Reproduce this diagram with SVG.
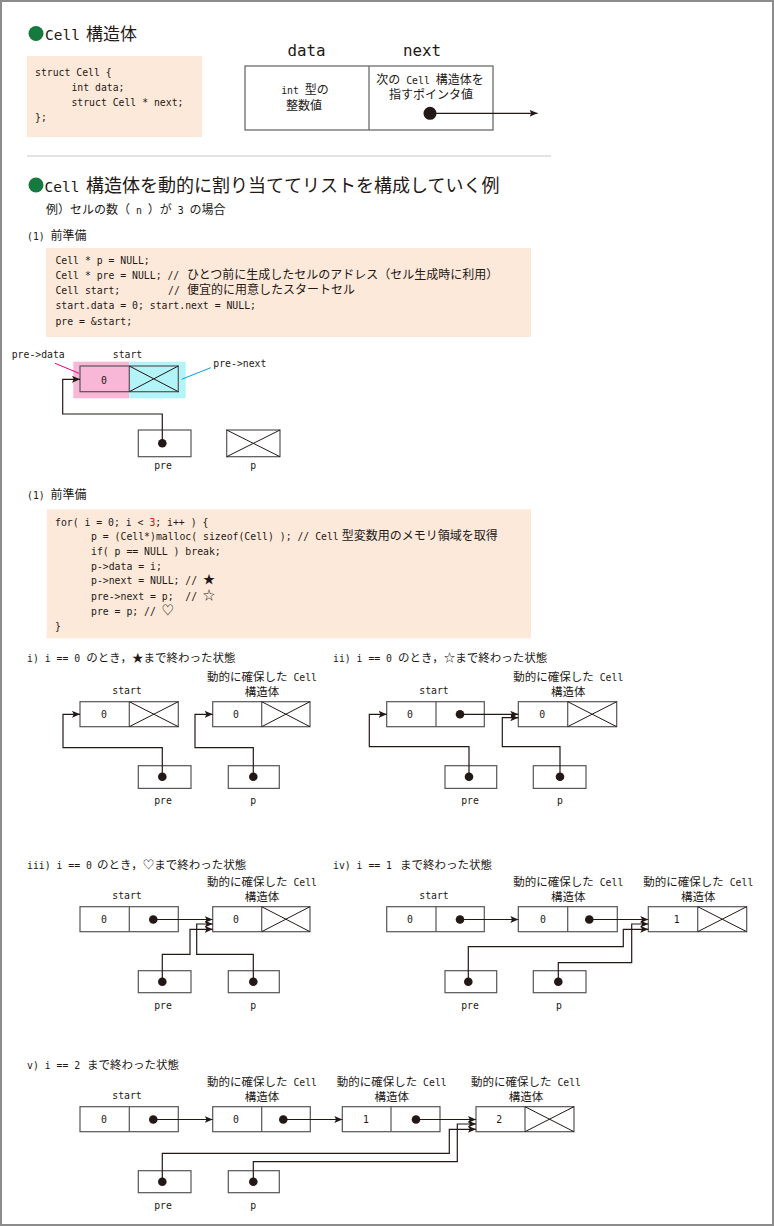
<svg xmlns="http://www.w3.org/2000/svg" width="774" height="1226" viewBox="0 0 774 1226">
<style>
.m{font-family:"DejaVu Sans Mono","Liberation Mono","Noto Sans CJK JP",monospace;font-size:9.8px;fill:#231815}
.j{font-family:"Noto Sans CJK JP","Noto Sans CJK SC",sans-serif;font-size:12px;fill:#231815}
.d{font-size:11.5px}
.c{text-anchor:middle}
.box{fill:#fff;stroke:#555;stroke-width:1.2}
.nb{fill:none;stroke:#555;stroke-width:1.2}
.dv{stroke:#555;stroke-width:1.2}
.x{stroke:#231815;stroke-width:1}
.dot{fill:#231815}
.ln{fill:none;stroke:#231815;stroke-width:1.2;marker-end:url(#ah)}
.code{fill:#fde9da}
.gd{fill:#157a3e}
</style>
<defs>
<marker id="ah" markerUnits="userSpaceOnUse" markerWidth="10" markerHeight="8" refX="8" refY="3.5" orient="auto"><path d="M0,0 L8,3.5 L0,7 L1.8,3.5 Z" fill="#231815"/></marker>
</defs>
<rect x="1" y="1" width="772" height="1224" fill="#fff" stroke="#8c8c8c" stroke-width="2"/>

<!-- Section 1 -->
<g id="title1">
<circle class="gd" cx="36" cy="33.5" r="7.5"/>
<text x="45" y="40" class="m" style="font-size:14.5px">Cell<tspan class="j" x="86" style="font-size:17px">構造体</tspan></text>
</g>
<g id="code1">
<rect class="code" x="27" y="56" width="175" height="81"/>
<text class="m" x="35" y="76">struct Cell {</text>
<text class="m" x="71.4" y="91">int data;</text>
<text class="m" x="71.4" y="106">struct Cell * next;</text>
<text class="m" x="35" y="121">};</text>
</g>
<g id="cell-struct">
<text class="m c" x="306.6" y="56" style="font-size:15.8px">data</text>
<text class="m c" x="422" y="56" style="font-size:15.8px">next</text>
<rect x="245" y="66" width="248" height="64" fill="#fff" stroke="#6b6b6b" stroke-width="1.3"/>
<line x1="369" y1="66" x2="369" y2="130" stroke="#6b6b6b" stroke-width="1.3"/>
<text class="m c" x="305" y="94">int <tspan class="j">型の</tspan></text>
<text class="j c" x="304" y="110">整数値</text>
<text class="j c" x="430" y="84">次の<tspan class="m"> Cell </tspan>構造体を</text>
<text class="j c" x="431" y="99">指すポインタ値</text>
<circle class="dot" cx="430" cy="113.3" r="6.5"/>
</g>
<g id="conn-top"><path class="ln" d="M430,113.3 H537.5"/></g>
<line x1="27" y1="156" x2="551" y2="156" stroke="#c8c8c8" stroke-width="1"/>

<!-- Section 2 -->
<g id="title2">
<circle class="gd" cx="36" cy="185" r="7.5"/>
<text x="44.6" y="192" class="m" style="font-size:14.5px">Cell<tspan class="j" x="86" style="font-size:18px">構造体を動的に割り当ててリストを構成していく例</tspan></text>
<text class="j" x="46" y="214" xml:space="preserve">例）セルの数（<tspan class="m"> n </tspan>）が<tspan class="m"> 3 </tspan>の場合</text>
<text class="m" x="27" y="240">(1) <tspan class="j">前準備</tspan></text>
</g>
<g id="code2">
<rect class="code" x="46" y="248" width="485" height="89"/>
<text class="m" x="55.4" y="263.5">Cell * p = NULL;</text>
<text class="m" x="55.4" y="279">Cell * pre = NULL; // <tspan class="j" x="187">ひとつ前に生成したセルのアドレス（セル生成時に利用）</tspan></text>
<text class="m" x="55.4" y="294">Cell start;<tspan x="168">//</tspan><tspan class="j" x="187">便宜的に用意したスタートセル</tspan></text>
<text class="m" x="55.4" y="309">start.data = 0; start.next = NULL;</text>
<text class="m" x="55.4" y="325">pre = &amp;start;</text>
</g>

<!-- start diagram -->
<g id="init-start">
<rect x="73.3" y="361.7" width="56" height="36.6" fill="#f9b7d7"/>
<rect x="129.3" y="361.7" width="56.4" height="36.6" fill="#b3f4f8"/>
<rect class="nb" x="80" y="366" width="98.3" height="25.7"/>
<line class="dv" x1="129.3" y1="366" x2="129.3" y2="391.7"/>
<line class="x" x1="129.3" y1="366" x2="178.3" y2="391.7"/>
<line class="x" x1="129.3" y1="391.7" x2="178.3" y2="366"/>
<text class="m c" x="104" y="384">0</text>
<text class="m c" x="127.5" y="358">start</text>
<text class="m" x="11.7" y="358">pre-&gt;data</text>
<line x1="55" y1="363.3" x2="79" y2="373.3" stroke="#e4007f" stroke-width="1"/>
<text class="m" x="213.3" y="366.7">pre-&gt;next</text>
<line x1="181.7" y1="379.3" x2="210.7" y2="367.7" stroke="#00a0e9" stroke-width="1"/>
</g>
<g id="init-pre">
<rect class="box" x="138.3" y="430" width="52.7" height="26.7"/>
<circle class="dot" cx="162.3" cy="443.3" r="4.3"/>
<text class="m c" x="163" y="469">pre</text>
</g>
<g id="init-p">
<rect class="box" x="226.7" y="430" width="53.3" height="26.7"/>
<line class="x" x1="226.7" y1="430" x2="280" y2="456.7"/>
<line class="x" x1="226.7" y1="456.7" x2="280" y2="430"/>
<text class="m c" x="253.3" y="469">p</text>
</g>
<g id="init-conn"><path class="ln" d="M162.3,443.3 V414 H62.7 V379.3 H80"/></g>

<!-- loop code -->
<g id="code3">
<text class="m" x="27" y="499">(1) <tspan class="j">前準備</tspan></text>
<rect class="code" x="46.7" y="509.3" width="484.3" height="129"/>
<text class="m" x="55" y="526" xml:space="preserve">for( i = 0; i &lt; <tspan fill="#e60012">3</tspan>; i++ ) {</text>
<text class="m" x="91" y="540">p = (Cell*)malloc( sizeof(Cell) ); // Cell <tspan class="j" x="341.7">型変数用のメモリ領域を取得</tspan></text>
<text class="m" x="91" y="555">if( p == NULL ) break;</text>
<text class="m" x="91" y="569.5">p-&gt;data = i;</text>
<text class="m" x="91" y="584" xml:space="preserve">p-&gt;next = NULL; // <tspan class="j">★</tspan></text>
<text class="m" x="91" y="599.5" xml:space="preserve">pre-&gt;next = p;  // <tspan class="j">☆</tspan></text>
<text class="m" x="91" y="614.5" xml:space="preserve">pre = p; // <tspan class="j">♡</tspan></text>
<text class="m" x="55" y="629.5">}</text>
</g>

<!-- i) -->
<g id="s1-title"><text class="m" x="27" y="662" xml:space="preserve">i) i == 0 <tspan class="j" x="86.3" style="font-size:11.5px">のとき，★まで終わった状態</tspan></text></g>
<g id="s1-start">
<text class="m c" x="127" y="693.5">start</text>
<rect class="box" x="80" y="701.7" width="98.3" height="25"/>
<line class="dv" x1="129.3" y1="701.7" x2="129.3" y2="726.7"/>
<line class="x" x1="129.3" y1="701.7" x2="178.3" y2="726.7"/>
<line class="x" x1="129.3" y1="726.7" x2="178.3" y2="701.7"/>
<text class="m c" x="104" y="718">0</text>
</g>
<g id="s1-dyn">
<text class="j d c" x="262" y="681">動的に確保した<tspan class="m"> Cell</tspan></text>
<text class="j d c" x="262" y="696">構造体</text>
<rect class="box" x="212.7" y="701.7" width="97.3" height="25"/>
<line class="dv" x1="261.7" y1="701.7" x2="261.7" y2="726.7"/>
<line class="x" x1="261.7" y1="701.7" x2="310" y2="726.7"/>
<line class="x" x1="261.7" y1="726.7" x2="310" y2="701.7"/>
<text class="m c" x="236" y="718">0</text>
</g>
<g id="s1-pre">
<rect class="box" x="138.3" y="765.7" width="52.7" height="22.7"/>
<circle class="dot" cx="162.3" cy="776.7" r="4.3"/>
<text class="m c" x="163" y="803.5">pre</text>
</g>
<g id="s1-p">
<rect class="box" x="228.3" y="765.7" width="51" height="22.7"/>
<circle class="dot" cx="253.3" cy="776.7" r="4.3"/>
<text class="m c" x="253.3" y="803.5">p</text>
</g>
<g id="s1-conn">
<path class="ln" d="M162.3,776.7 V747.7 H63 V714.3 H80"/>
<path class="ln" d="M253.3,776.7 V747.7 H195 V714.3 H212.7"/>
</g>

<!-- ii) -->
<g id="s2-title"><text class="m" x="333" y="662" xml:space="preserve">ii) i == 0 <tspan class="j" x="398" style="font-size:11.5px">のとき，☆まで終わった状態</tspan></text></g>
<g id="s2-start">
<text class="m c" x="434" y="693.5">start</text>
<rect class="box" x="386.7" y="701.7" width="97.6" height="25"/>
<line class="dv" x1="436" y1="701.7" x2="436" y2="726.7"/>
<text class="m c" x="410" y="718">0</text>
<circle class="dot" cx="460" cy="714.3" r="4.3"/>
</g>
<g id="s2-dyn">
<text class="j d c" x="568.3" y="681">動的に確保した<tspan class="m"> Cell</tspan></text>
<text class="j d c" x="568.3" y="696">構造体</text>
<rect class="box" x="518.3" y="701.7" width="98.4" height="25"/>
<line class="dv" x1="567.7" y1="701.7" x2="567.7" y2="726.7"/>
<line class="x" x1="567.7" y1="701.7" x2="616.7" y2="726.7"/>
<line class="x" x1="567.7" y1="726.7" x2="616.7" y2="701.7"/>
<text class="m c" x="542.3" y="718">0</text>
</g>
<g id="s2-pre">
<rect class="box" x="445" y="765.7" width="51.7" height="22.7"/>
<circle class="dot" cx="469" cy="776.7" r="4.3"/>
<text class="m c" x="470" y="803.5">pre</text>
</g>
<g id="s2-p">
<rect class="box" x="533.3" y="765.7" width="52.7" height="22.7"/>
<circle class="dot" cx="560" cy="776.7" r="4.3"/>
<text class="m c" x="560" y="803.5">p</text>
</g>
<g id="s2-conn">
<path class="ln" d="M460,714.3 H518.3"/>
<path class="ln" d="M469,776.7 V746.7 H369.3 V714.3 H386.7"/>
<path class="ln" d="M560,776.7 V746.7 H502.3 V717.7 H518.3"/>
</g>

<!-- iii) -->
<g id="s3-title"><text class="m" x="27" y="869" xml:space="preserve">iii) i == 0 <tspan class="j" x="97" style="font-size:11.5px">のとき，♡まで終わった状態</tspan></text></g>
<g id="s3-start">
<text class="m c" x="127" y="898.5">start</text>
<rect class="box" x="80" y="906.7" width="98.3" height="25"/>
<line class="dv" x1="129.3" y1="906.7" x2="129.3" y2="931.7"/>
<text class="m c" x="104" y="923">0</text>
<circle class="dot" cx="153.3" cy="919.5" r="4.3"/>
</g>
<g id="s3-dyn">
<text class="j d c" x="262" y="886">動的に確保した<tspan class="m"> Cell</tspan></text>
<text class="j d c" x="262" y="901">構造体</text>
<rect class="box" x="212.7" y="906.7" width="97.3" height="25"/>
<line class="dv" x1="261.7" y1="906.7" x2="261.7" y2="931.7"/>
<line class="x" x1="261.7" y1="906.7" x2="310" y2="931.7"/>
<line class="x" x1="261.7" y1="931.7" x2="310" y2="906.7"/>
<text class="m c" x="236" y="923">0</text>
</g>
<g id="s3-pre">
<rect class="box" x="138.3" y="970.7" width="52.7" height="22"/>
<circle class="dot" cx="162.3" cy="981.7" r="4.3"/>
<text class="m c" x="163" y="1008.5">pre</text>
</g>
<g id="s3-p">
<rect class="box" x="228.3" y="970.7" width="51" height="22"/>
<circle class="dot" cx="253.3" cy="981.7" r="4.3"/>
<text class="m c" x="253.3" y="1008.5">p</text>
</g>
<g id="s3-conn">
<path class="ln" d="M153.3,919.5 H212.7"/>
<path class="ln" d="M162.3,981.7 V954.3 H190 V929.3 H212.7"/>
<path class="ln" d="M253.3,981.7 V954.3 H196.7 V924 H212.7"/>
</g>

<!-- iv) -->
<g id="s4-title"><text class="m" x="333" y="869" xml:space="preserve">iv) i == 1 <tspan class="j" x="400" style="font-size:11.5px">まで終わった状態</tspan></text></g>
<g id="s4-start">
<text class="m c" x="434" y="898.5">start</text>
<rect class="box" x="386.7" y="906.7" width="97.6" height="25"/>
<line class="dv" x1="436" y1="906.7" x2="436" y2="931.7"/>
<text class="m c" x="410" y="923">0</text>
<circle class="dot" cx="460" cy="919.5" r="4.3"/>
</g>
<g id="s4-dyn1">
<text class="j d c" x="568.3" y="886">動的に確保した<tspan class="m"> Cell</tspan></text>
<text class="j d c" x="568.3" y="901">構造体</text>
<rect class="box" x="518.3" y="906.7" width="99" height="25"/>
<line class="dv" x1="567.7" y1="906.7" x2="567.7" y2="931.7"/>
<text class="m c" x="543" y="923">0</text>
<circle class="dot" cx="589.3" cy="919.5" r="4.3"/>
</g>
<g id="s4-dyn2">
<text class="j d c" x="698.3" y="886">動的に確保した<tspan class="m"> Cell</tspan></text>
<text class="j d c" x="698.3" y="901">構造体</text>
<rect class="box" x="648.3" y="906.7" width="98.4" height="25"/>
<line class="dv" x1="697.7" y1="906.7" x2="697.7" y2="931.7"/>
<line class="x" x1="697.7" y1="906.7" x2="746.7" y2="931.7"/>
<line class="x" x1="697.7" y1="931.7" x2="746.7" y2="906.7"/>
<text class="m c" x="676.7" y="923">1</text>
</g>
<g id="s4-pre">
<rect class="box" x="445" y="970.7" width="51.7" height="22"/>
<circle class="dot" cx="468.3" cy="981.7" r="4.3"/>
<text class="m c" x="470" y="1008.5">pre</text>
</g>
<g id="s4-p">
<rect class="box" x="533.3" y="970.7" width="52.7" height="22"/>
<circle class="dot" cx="558.3" cy="981.7" r="4.3"/>
<text class="m c" x="559" y="1008.5">p</text>
</g>
<g id="s4-conn">
<path class="ln" d="M460,919.5 H518.3"/>
<path class="ln" d="M589.3,919.5 H648.3"/>
<path class="ln" d="M468.3,981.7 V946.7 H623.3 V929.3 H648.3"/>
<path class="ln" d="M558.3,981.7 V962.7 H631.7 V924 H648.3"/>
</g>

<!-- v) -->
<g id="s5-title"><text class="m" x="27" y="1069" xml:space="preserve">v) i == 2 <tspan class="j" x="87" style="font-size:11.5px">まで終わった状態</tspan></text></g>
<g id="s5-start">
<text class="m c" x="127" y="1098.5">start</text>
<rect class="box" x="80" y="1106.7" width="98.3" height="25"/>
<line class="dv" x1="129.3" y1="1106.7" x2="129.3" y2="1131.7"/>
<text class="m c" x="104" y="1123">0</text>
<circle class="dot" cx="153.3" cy="1119.5" r="4.3"/>
</g>
<g id="s5-dyn1">
<text class="j d c" x="262" y="1086">動的に確保した<tspan class="m"> Cell</tspan></text>
<text class="j d c" x="262" y="1101">構造体</text>
<rect class="box" x="212.7" y="1106.7" width="97.6" height="25"/>
<line class="dv" x1="261.7" y1="1106.7" x2="261.7" y2="1131.7"/>
<text class="m c" x="236" y="1123">0</text>
<circle class="dot" cx="283.3" cy="1119.5" r="4.3"/>
</g>
<g id="s5-dyn2">
<text class="j d c" x="391.7" y="1086">動的に確保した<tspan class="m"> Cell</tspan></text>
<text class="j d c" x="391.7" y="1101">構造体</text>
<rect class="box" x="342.3" y="1106.7" width="97.7" height="25"/>
<line class="dv" x1="391" y1="1106.7" x2="391" y2="1131.7"/>
<text class="m c" x="366" y="1123">1</text>
<circle class="dot" cx="416" cy="1119.5" r="4.3"/>
</g>
<g id="s5-dyn3">
<text class="j d c" x="526" y="1086">動的に確保した<tspan class="m"> Cell</tspan></text>
<text class="j d c" x="526" y="1101">構造体</text>
<rect class="box" x="476" y="1106.7" width="98" height="25"/>
<line class="dv" x1="525" y1="1106.7" x2="525" y2="1131.7"/>
<line class="x" x1="525" y1="1106.7" x2="574" y2="1131.7"/>
<line class="x" x1="525" y1="1131.7" x2="574" y2="1106.7"/>
<text class="m c" x="499.3" y="1123">2</text>
</g>
<g id="s5-pre">
<rect class="box" x="138.3" y="1170.7" width="52.7" height="22"/>
<circle class="dot" cx="162.3" cy="1181.7" r="4.3"/>
<text class="m c" x="163" y="1208.5">pre</text>
</g>
<g id="s5-p">
<rect class="box" x="228.3" y="1170.7" width="51" height="22"/>
<circle class="dot" cx="253.3" cy="1181.7" r="4.3"/>
<text class="m c" x="253.3" y="1208.5">p</text>
</g>
<g id="s5-conn">
<path class="ln" d="M153.3,1119.5 H212.7"/>
<path class="ln" d="M283.3,1119.5 H342.3"/>
<path class="ln" d="M416,1119.5 H476"/>
<path class="ln" d="M162.3,1181.7 V1153.3 H449.3 V1129.3 H476"/>
<path class="ln" d="M253.3,1181.7 V1161.7 H457.3 V1124 H476"/>
</g>
</svg>
